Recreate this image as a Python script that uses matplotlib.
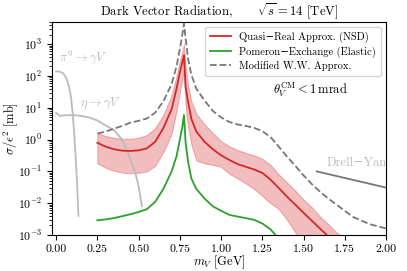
import matplotlib
matplotlib.use('Agg')
import matplotlib.pyplot as plt

plt.rcParams['font.family'] = ['cmr10', 'DejaVu Serif']
plt.rcParams['mathtext.fontset'] = 'cm'
plt.rcParams['axes.formatter.use_mathtext'] = True

# pi0 -> gamma V
m_pi = [0.0, 0.02, 0.04, 0.06, 0.07, 0.08, 0.09, 0.10, 0.11, 0.12, 0.13, 0.135]
sig_pi = [140, 138, 125, 90, 65, 42, 22, 7, 1.5, 0.2, 0.02, 0.004]

# eta -> gamma V
m_eta = [0.0, 0.02, 0.05, 0.1, 0.15, 0.2, 0.25, 0.3, 0.35, 0.4, 0.45, 0.48, 0.5, 0.52]
sig_eta = [7, 5.6, 5.8, 5.9, 5.6, 5.0, 4.0, 2.8, 2.0, 1.0, 0.25, 0.09, 0.035, 0.008]

# Quasi-Real approx (NSD) with band
m_qr = [0.25, 0.3, 0.35, 0.4, 0.45, 0.5, 0.55, 0.6, 0.65, 0.7, 0.73, 0.75, 0.765, 0.775,
        0.785, 0.8, 0.82, 0.85, 0.9, 0.95, 1.0, 1.05, 1.1, 1.15, 1.2, 1.25, 1.3, 1.35,
        1.4, 1.45, 1.5, 1.55, 1.6, 1.65, 1.7, 1.75]
sig_qr = [0.8, 0.6, 0.5, 0.45, 0.44, 0.46, 0.53, 0.85, 2.3, 9, 40, 130, 270, 450,
          45, 15, 4.5, 1.8, 0.85, 0.5, 0.32, 0.23, 0.17, 0.14, 0.115, 0.09, 0.055, 0.03,
          0.016, 0.009, 0.005, 0.0028, 0.0016, 0.0009, 0.0005, 0.0003]
sig_qr_hi = [1.63, 1.3, 1.15, 1.07, 1.06, 1.15, 1.4, 2.3, 6, 25, 100, 300, 600, 1000,
             200, 50, 16, 6.5, 3.0, 1.6, 0.9, 0.62, 0.47, 0.38, 0.32, 0.25, 0.16, 0.08,
             0.045, 0.025, 0.013, 0.0075, 0.0038, 0.0022, 0.0012, 0.0008]
sig_qr_lo = [0.18, 0.13, 0.105, 0.092, 0.087, 0.09, 0.1, 0.15, 0.4, 1.5, 8, 30, 80, 150,
             10, 2.5, 0.7, 0.22, 0.18, 0.16, 0.14, 0.085, 0.06, 0.042, 0.028, 0.017, 0.01, 0.0065,
             0.003, 0.0012, 0.0005, 0.0003, 0.0002, 0.0001, 0.0001, 0.0001]

# Pomeron exchange (elastic)
m_pe = [0.25, 0.3, 0.35, 0.4, 0.45, 0.5, 0.55, 0.6, 0.65, 0.7, 0.73, 0.75, 0.765, 0.775,
        0.785, 0.8, 0.82, 0.85, 0.9, 0.95, 1.0, 1.05, 1.1, 1.15, 1.2, 1.25, 1.3, 1.33]
sig_pe = [0.0029, 0.0031, 0.0034, 0.0039, 0.0045, 0.0053, 0.0065, 0.011, 0.028, 0.1, 0.3, 1.0, 2.5, 6,
          0.8, 0.2, 0.06, 0.028, 0.014, 0.008, 0.0058, 0.0043, 0.0038, 0.0034, 0.003, 0.0023, 0.0015, 0.001]

# Modified W.W. approx
m_ww = [0.25, 0.3, 0.35, 0.4, 0.45, 0.5, 0.55, 0.6, 0.65, 0.7, 0.73, 0.75, 0.765, 0.775,
        0.785, 0.8, 0.82, 0.85, 0.9, 0.95, 1.0, 1.05, 1.1, 1.15, 1.2, 1.25, 1.3, 1.35,
        1.4, 1.45, 1.5, 1.55, 1.6, 1.65, 1.7, 1.8, 1.9, 2.0]
sig_ww = [1.55, 1.8, 2.2, 2.7, 3.4, 3.9, 4.6, 7, 16, 55, 200, 700, 2000, 4500,
          1500, 350, 110, 40, 17, 8, 5, 3.6, 3.0, 2.7, 2.35, 1.85, 1.2, 0.6,
          0.29, 0.15, 0.075, 0.04, 0.023, 0.014, 0.009, 0.0037, 0.0022, 0.0016]

# Drell-Yan
m_dy = [1.58, 2.0]
sig_dy = [0.1, 0.031]

fig = plt.figure(figsize=(4.07, 2.71), dpi=100)
ax = fig.add_axes([0.1278, 0.1328, 0.8206, 0.786])

ax.plot(m_pi, sig_pi, color='#bbbbbb', lw=1.3)
ax.plot(m_eta, sig_eta, color='#bbbbbb', lw=1.3)
ax.fill_between(m_qr, sig_qr_lo, sig_qr_hi, facecolor='tab:red', alpha=0.3, edgecolor='tab:red', lw=0.8)
ax.plot(m_qr, sig_qr, color='tab:red', lw=1.3, label='Quasi\u2212Real Approx. (NSD)')
ax.plot(m_pe, sig_pe, color='tab:green', lw=1.3, label='Pomeron\u2212Exchange (Elastic)')
ax.plot(m_ww, sig_ww, '--', color='#777777', lw=1.3, label='Modified W.W. Approx.')
ax.plot(m_dy, sig_dy, color='#777777', lw=1.3)

ax.text(0.016, 390, r'$\pi^0 \to \gamma V$', color='#bbbbbb', fontsize=9, va='center')
ax.text(0.145, 14, r'$\eta \to \gamma V$', color='#bbbbbb', fontsize=9, va='center')
ax.text(1.82, 0.18, 'Drell\u2212Yan', color='#bbbbbb', fontsize=9, ha='center', va='center')
ax.text(1.54, 36, r'$\theta_V^{\rm CM} < 1\,{\rm mrad}$', fontsize=9, ha='center', va='center')

ax.set_yscale('log')
ax.set_xlim(-0.025, 2.0)
ax.set_ylim(1e-3, 5e3)
ax.set_xticks([0.0, 0.25, 0.5, 0.75, 1.0, 1.25, 1.5, 1.75, 2.0])
ax.set_xticklabels(['0.00', '0.25', '0.50', '0.75', '1.00', '1.25', '1.50', '1.75', '2.00'])
ax.tick_params(labelsize=8.5)
ax.set_xlabel(r'$m_V\ [\mathrm{GeV}]$', fontsize=9)
ax.set_ylabel(r'$\sigma/\epsilon^2\ [\mathrm{mb}]$', fontsize=9)
ax.xaxis.set_label_coords(0.5, -0.088)
ax.yaxis.set_label_coords(-0.096, 0.5)
ax.set_title('Dark Vector Radiation,      ' + r'$\sqrt{s} = 14$ [TeV]', fontsize=9.2, pad=4)
ax.legend(loc='upper right', fontsize=7.6, labelspacing=0.3, borderpad=0.45)

fig.savefig('out.png', dpi=100)
